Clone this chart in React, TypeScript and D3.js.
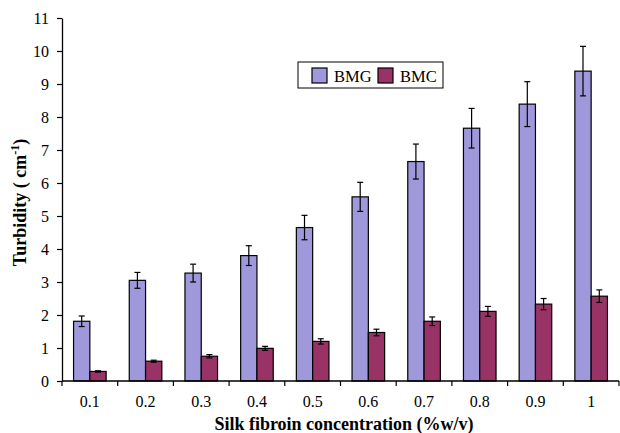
import React, { useEffect, useRef } from "react";
import * as d3 from "d3";

const concentrations = ["0.1", "0.2", "0.3", "0.4", "0.5", "0.6", "0.7", "0.8", "0.9", "1"];
const seriesNames = ["BMG", "BMC"];
const bmgValues = [1.81, 3.05, 3.27, 3.8, 4.65, 5.58, 6.65, 7.66, 8.39, 9.39];
const bmgErrors = [0.16, 0.24, 0.27, 0.3, 0.37, 0.44, 0.53, 0.6, 0.68, 0.75];
const bmcValues = [0.29, 0.6, 0.75, 0.99, 1.2, 1.47, 1.81, 2.11, 2.33, 2.57];
const bmcErrors = [0.02, 0.03, 0.05, 0.06, 0.08, 0.1, 0.13, 0.15, 0.17, 0.19];
const seriesColors = ["#9f99dc", "#993366"];

const App = () => {
  const svgRef = useRef<SVGSVGElement>(null);

  useEffect(() => {
    const width = 620;
    const height = 433;
    const margin = { top: 18, right: 1, bottom: 52, left: 62 };
    const font = "'Liberation Serif', 'Times New Roman', serif";

    const svg = d3.select(svgRef.current);
    svg.selectAll("*").remove();
    svg.attr("width", width).attr("height", height);

    const data = concentrations.map((c, i) => ({
      conc: c,
      values: [
        { name: "BMG", value: bmgValues[i], err: bmgErrors[i] },
        { name: "BMC", value: bmcValues[i], err: bmcErrors[i] }
      ]
    }));

    // Scales
    const x = d3.scaleBand()
      .domain(concentrations)
      .range([margin.left, width - margin.right])
      .paddingInner(0.415)
      .paddingOuter(0.2075);

    const xInner = d3.scaleBand()
      .domain(seriesNames)
      .range([0, x.bandwidth()]);

    const y = d3.scaleLinear()
      .domain([0, 11])
      .range([height - margin.bottom, margin.top]);

    const color = d3.scaleOrdinal<string>()
      .domain(seriesNames)
      .range(seriesColors);

    // Bars
    const groups = svg.append("g")
      .selectAll("g")
      .data(data)
      .join("g")
      .attr("transform", d => `translate(${x(d.conc)},0)`);

    groups.selectAll("rect")
      .data(d => d.values)
      .join("rect")
      .attr("x", d => xInner(d.name)!)
      .attr("y", d => y(d.value))
      .attr("width", xInner.bandwidth())
      .attr("height", d => y(0) - y(d.value))
      .attr("fill", d => color(d.name))
      .attr("stroke", "#000")
      .attr("stroke-width", 1.2);

    // Error bars
    const errs = groups.selectAll("g.err")
      .data(d => d.values)
      .join("g")
      .attr("class", "err")
      .attr("transform", d => `translate(${xInner(d.name)! + xInner.bandwidth() / 2},0)`)
      .attr("stroke", "#000")
      .attr("stroke-width", 1.2);

    errs.append("line")
      .attr("y1", d => y(d.value - d.err))
      .attr("y2", d => y(d.value + d.err));
    errs.append("line")
      .attr("x1", -3).attr("x2", 3)
      .attr("y1", d => y(d.value + d.err))
      .attr("y2", d => y(d.value + d.err));
    errs.append("line")
      .attr("x1", -3).attr("x2", 3)
      .attr("y1", d => y(d.value - d.err))
      .attr("y2", d => y(d.value - d.err));

    // Y axis
    const yAxis = svg.append("g")
      .attr("transform", `translate(${margin.left},0)`)
      .call(d3.axisLeft(y).ticks(11).tickSize(5).tickPadding(8).tickSizeOuter(0));
    yAxis.select(".domain").attr("stroke", "#000").attr("stroke-width", 1.3);
    yAxis.selectAll(".tick line").attr("stroke", "#000").attr("stroke-width", 1.2);
    yAxis.selectAll(".tick text")
      .attr("font-family", font)
      .attr("font-size", 16)
      .attr("fill", "#000");

    // X axis (ticks between categories)
    const xAxis = svg.append("g");
    const y0 = y(0);
    xAxis.append("line")
      .attr("x1", margin.left).attr("x2", width - margin.right)
      .attr("y1", y0).attr("y2", y0)
      .attr("stroke", "#000").attr("stroke-width", 1.3);
    const half = x.step() / 2;
    const boundaries = concentrations.map(c => x(c)! + x.bandwidth() / 2 - half)
      .concat([x(concentrations[concentrations.length - 1])! + x.bandwidth() / 2 + half]);
    xAxis.selectAll("line.tick")
      .data(boundaries)
      .join("line")
      .attr("class", "tick")
      .attr("x1", d => d).attr("x2", d => d)
      .attr("y1", y0).attr("y2", y0 + 5)
      .attr("stroke", "#000").attr("stroke-width", 1.2);
    xAxis.selectAll("text")
      .data(concentrations)
      .join("text")
      .attr("x", d => x(d)! + x.bandwidth() / 2)
      .attr("y", y0 + 26)
      .attr("text-anchor", "middle")
      .attr("font-family", font)
      .attr("font-size", 16)
      .text(d => d);

    // Axis titles
    svg.append("text")
      .attr("x", 344)
      .attr("y", 430)
      .attr("text-anchor", "middle")
      .attr("font-family", font)
      .attr("font-size", 18)
      .attr("font-weight", "bold")
      .text("Silk fibroin concentration (%w/v)");

    const yTitle = svg.append("text")
      .attr("transform", `translate(26,${(y(0) + y(11)) / 2 + 3}) rotate(-90)`)
      .attr("text-anchor", "middle")
      .attr("font-family", font)
      .attr("font-size", 18)
      .attr("font-weight", "bold");
    yTitle.append("tspan").text("Turbidity ( cm");
    yTitle.append("tspan").attr("dy", -7).attr("font-size", 12).text("-1");
    yTitle.append("tspan").attr("dy", 7).text(")");

    // Legend
    const legend = svg.append("g").attr("transform", "translate(298,62)");
    legend.append("rect")
      .attr("width", 145)
      .attr("height", 26)
      .attr("fill", "#fff")
      .attr("stroke", "#000")
      .attr("stroke-width", 1);
    seriesNames.forEach((name, i) => {
      const row = legend.append("g").attr("transform", `translate(${14 + i * 66},6)`);
      row.append("rect")
        .attr("width", 15)
        .attr("height", 15)
        .attr("fill", color(name))
        .attr("stroke", "#000")
        .attr("stroke-width", 1.2);
      row.append("text")
        .attr("x", 22)
        .attr("y", 14)
        .attr("font-family", font)
        .attr("font-size", 16.5)
        .text(name);
    });
  }, []);

  return (
    <div style={{ position: "absolute", left: 0, top: 0 }}>
      <svg ref={svgRef}></svg>
    </div>
  );
};

export default App;
